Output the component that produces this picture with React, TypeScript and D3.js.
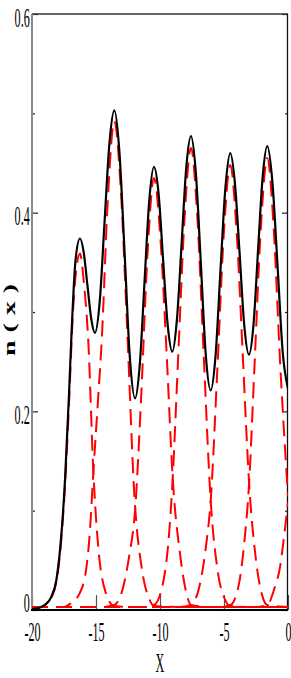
import React, { useEffect, useRef } from 'react';
import * as d3 from 'd3';

type Pt = [number, number];

// axis ticks
const xTicks = [-20, -15, -10, -5, 0];
const yMajorTicks = [0, 0.2, 0.4, 0.6];
const yMinorTicks = [0.1, 0.3, 0.5];

// total density n(x) (solid black)
const totalDensity: Pt[] = [
  [-20, 0.001], [-19.5, 0.002], [-19.0, 0.005], [-18.5, 0.013], [-18.1, 0.03], [-17.8, 0.062],
  [-17.42, 0.131], [-17.1, 0.22], [-16.9, 0.282], [-16.6, 0.352], [-16.25, 0.374], [-15.96, 0.36],
  [-15.67, 0.327], [-15.37, 0.293], [-15.08, 0.279], [-14.7, 0.312], [-14.33, 0.391], [-13.95, 0.47],
  [-13.57, 0.503], [-13.17, 0.461], [-12.76, 0.358], [-12.36, 0.255], [-11.95, 0.213], [-11.58, 0.247],
  [-11.21, 0.33], [-10.84, 0.412], [-10.47, 0.446], [-10.11, 0.419], [-9.76, 0.353], [-9.4, 0.287],
  [-9.04, 0.26], [-8.68, 0.292], [-8.31, 0.369], [-7.95, 0.445], [-7.58, 0.477], [-7.2, 0.44],
  [-6.81, 0.349], [-6.43, 0.258], [-6.04, 0.221], [-5.66, 0.256], [-5.28, 0.341], [-4.89, 0.425],
  [-4.51, 0.46], [-4.15, 0.43], [-3.78, 0.359], [-3.42, 0.287], [-3.05, 0.257], [-2.69, 0.288],
  [-2.34, 0.362], [-1.98, 0.436], [-1.62, 0.467], [-1.22, 0.431], [-0.81, 0.345], [-0.41, 0.259],
  [0, 0.223],
];

// single-site contributions (red dashed)
const orbital1: Pt[] = [
  [-20, 0.001], [-19.5, 0.002], [-19.0, 0.005], [-18.5, 0.012], [-18.1, 0.028], [-17.8, 0.058],
  [-17.42, 0.125], [-17.1, 0.21], [-16.8, 0.3], [-16.5, 0.347], [-16.25, 0.359], [-15.95, 0.33],
  [-15.6, 0.27], [-15.21, 0.14], [-14.8, 0.06], [-14.3, 0.02], [-13.57, 0.004], [-12, 0.003], [0, 0.003],
];
const orbital2: Pt[] = [
  [-20, 0.003], [-17.5, 0.003], [-16.95, 0.007], [-16.27, 0.017], [-15.78, 0.04], [-15.5, 0.075],
  [-15.21, 0.138], [-14.85, 0.21], [-14.55, 0.272], [-14.07, 0.415], [-13.57, 0.492], [-13.07, 0.425],
  [-12.57, 0.285], [-12.0, 0.115], [-11.4, 0.04], [-10.8, 0.01], [-10.47, 0.004], [-8, 0.003], [0, 0.003],
];
const orbital3: Pt[] = [
  [-20, 0.003], [-14.5, 0.003], [-13.57, 0.005], [-12.9, 0.022], [-12.4, 0.055], [-11.95, 0.1],
  [-11.47, 0.215], [-10.97, 0.36], [-10.47, 0.435], [-9.97, 0.375], [-9.47, 0.255], [-9.0, 0.131],
  [-8.44, 0.057], [-7.9, 0.015], [-7.58, 0.005], [-6, 0.003], [0, 0.003],
];
const orbital4: Pt[] = [
  [-20, 0.003], [-11.5, 0.003], [-10.47, 0.005], [-9.8, 0.025], [-9.3, 0.075], [-9.04, 0.125],
  [-8.58, 0.255], [-8.08, 0.395], [-7.58, 0.465], [-7.08, 0.395], [-6.58, 0.255], [-6.04, 0.11],
  [-5.5, 0.04], [-4.9, 0.01], [-4.51, 0.004], [-3, 0.003], [0, 0.003],
];
const orbital5: Pt[] = [
  [-20, 0.003], [-8.5, 0.003], [-7.58, 0.005], [-6.9, 0.025], [-6.4, 0.065], [-6.04, 0.11],
  [-5.51, 0.245], [-5.01, 0.38], [-4.51, 0.448], [-4.01, 0.38], [-3.51, 0.25], [-3.05, 0.13],
  [-2.5, 0.05], [-1.95, 0.012], [-1.62, 0.005], [0, 0.003],
];
const orbital6: Pt[] = [
  [-20, 0.003], [-5.4, 0.003], [-4.51, 0.005], [-3.85, 0.025], [-3.4, 0.07], [-3.05, 0.125],
  [-2.62, 0.245], [-2.12, 0.385], [-1.62, 0.455], [-1.12, 0.385], [-0.62, 0.25], [0, 0.115],
];
const orbital7: Pt[] = [
  [-20, 0.003], [-2.5, 0.003], [-1.62, 0.005], [-1.1, 0.02], [-0.6, 0.045], [-0.3, 0.075], [0, 0.108],
];
const orbitals = [orbital1, orbital2, orbital3, orbital4, orbital5, orbital6, orbital7];

const FONT = '"Liberation Serif", "Times New Roman", serif';
const SQUEEZE = 0.45; // labels in the source are strongly narrowed
const LABEL_SIZE = 27;

const DensityPlot: React.FC = () => {
  const svgRef = useRef<SVGSVGElement | null>(null);

  useEffect(() => {
    if (!svgRef.current) return;
    const svg = d3.select(svgRef.current);
    svg.selectAll('*').remove();

    const width = 291;
    const height = 678;
    const margin = { top: 14, right: 3, bottom: 68, left: 32 };
    const x0 = margin.left;
    const x1 = width - margin.right;
    const y0 = height - margin.bottom;
    const y1 = margin.top;

    const xScale = d3.scaleLinear().domain([-20, 0]).range([x0, x1]);
    const yScale = d3.scaleLinear().domain([0, 0.6]).range([y0, y1]);

    svg.append('defs').append('clipPath').attr('id', 'plot-clip')
      .append('rect').attr('x', x0).attr('y', y1 - 2).attr('width', x1 - x0).attr('height', y0 - y1 + 2);

    // x ticks (long, inside)
    const xAxis = svg.append('g').attr('transform', `translate(0,${y0})`)
      .call(d3.axisBottom(xScale).tickValues(xTicks).tickSize(-15).tickSizeOuter(0).tickPadding(12)
        .tickFormat(d => String(d)));
    xAxis.select('.domain').remove();
    xAxis.selectAll('line').attr('stroke', '#555').attr('stroke-width', 1.2);
    xAxis.selectAll('text')
      .attr('font-family', FONT).attr('font-size', LABEL_SIZE).attr('fill', '#000')
      .attr('transform', `scale(${SQUEEZE},1)`);

    // y ticks, left and right
    const yLeftMinor = svg.append('g').attr('transform', `translate(${x0},0)`)
      .call(d3.axisLeft(yScale).tickValues(yMinorTicks).tickSize(-3).tickSizeOuter(0).tickFormat(() => ''));
    const yLeft = svg.append('g').attr('transform', `translate(${x0},0)`)
      .call(d3.axisLeft(yScale).tickValues(yMajorTicks).tickSize(-6).tickSizeOuter(0).tickPadding(5)
        .tickFormat(d => String(d)));
    const yRightMinor = svg.append('g').attr('transform', `translate(${x1},0)`)
      .call(d3.axisRight(yScale).tickValues(yMinorTicks).tickSize(-3).tickSizeOuter(0).tickFormat(() => ''));
    const yRight = svg.append('g').attr('transform', `translate(${x1},0)`)
      .call(d3.axisRight(yScale).tickValues(yMajorTicks).tickSize(-6).tickSizeOuter(0).tickFormat(() => ''));
    [yLeftMinor, yLeft, yRightMinor, yRight].forEach(g => {
      g.select('.domain').remove();
      g.selectAll('line').attr('stroke', '#222').attr('stroke-width', 1.2);
    });
    yLeft.selectAll<SVGTextElement, number>('text')
      .attr('font-family', FONT).attr('font-size', LABEL_SIZE).attr('fill', '#000')
      .attr('dy', d => (d === 0 ? 1 : 12))
      .attr('transform', `scale(${SQUEEZE},1)`);

    // frame
    svg.append('line').attr('x1', x0).attr('x2', x1).attr('y1', y1).attr('y2', y1)
      .attr('stroke', '#333').attr('stroke-width', 1.3);
    svg.append('line').attr('x1', x1 - 0.5).attr('x2', x1 - 0.5).attr('y1', y1).attr('y2', y0)
      .attr('stroke', '#111').attr('stroke-width', 1.3);
    svg.append('line').attr('x1', x0).attr('x2', x0).attr('y1', y1).attr('y2', y0)
      .attr('stroke', '#8a8a8a').attr('stroke-width', 2);

    const line = d3.line<Pt>()
      .x(d => xScale(d[0]))
      .y(d => yScale(d[1]))
      .curve(d3.curveMonotoneX);

    const plot = svg.append('g').attr('clip-path', 'url(#plot-clip)');

    plot.selectAll('.orbital')
      .data(orbitals)
      .enter()
      .append('path')
      .attr('class', 'orbital')
      .attr('d', d => line(d))
      .attr('fill', 'none')
      .attr('stroke', '#ff0000')
      .attr('stroke-width', 2)
      .attr('stroke-dasharray', '16,8');

    plot.append('path')
      .attr('d', line(totalDensity))
      .attr('fill', 'none')
      .attr('stroke', '#000')
      .attr('stroke-width', 2.2);

    // bottom axis line (thick black)
    svg.append('line').attr('x1', x0 - 1).attr('x2', x1).attr('y1', y0).attr('y2', y0)
      .attr('stroke', '#000').attr('stroke-width', 2.2);

    // axis titles
    svg.append('text')
      .attr('transform', `translate(${(x0 + x1) / 2},${height - 6}) scale(${SQUEEZE},1)`)
      .attr('text-anchor', 'middle')
      .attr('font-family', FONT).attr('font-size', LABEL_SIZE)
      .text('X');

    svg.append('text')
      .attr('transform', `translate(15,316) rotate(-90) scale(1,0.6)`)
      .attr('text-anchor', 'middle')
      .attr('font-family', FONT).attr('font-size', 28).attr('font-weight', 'bold')
      .attr('letter-spacing', 8)
      .text('n(x)');
  }, []);

  return (
    <svg ref={svgRef} width={291} height={678}
      style={{ position: 'absolute', left: 0, top: 0, background: '#fff' }} />
  );
};

export default function App() {
  return <DensityPlot />;
}
